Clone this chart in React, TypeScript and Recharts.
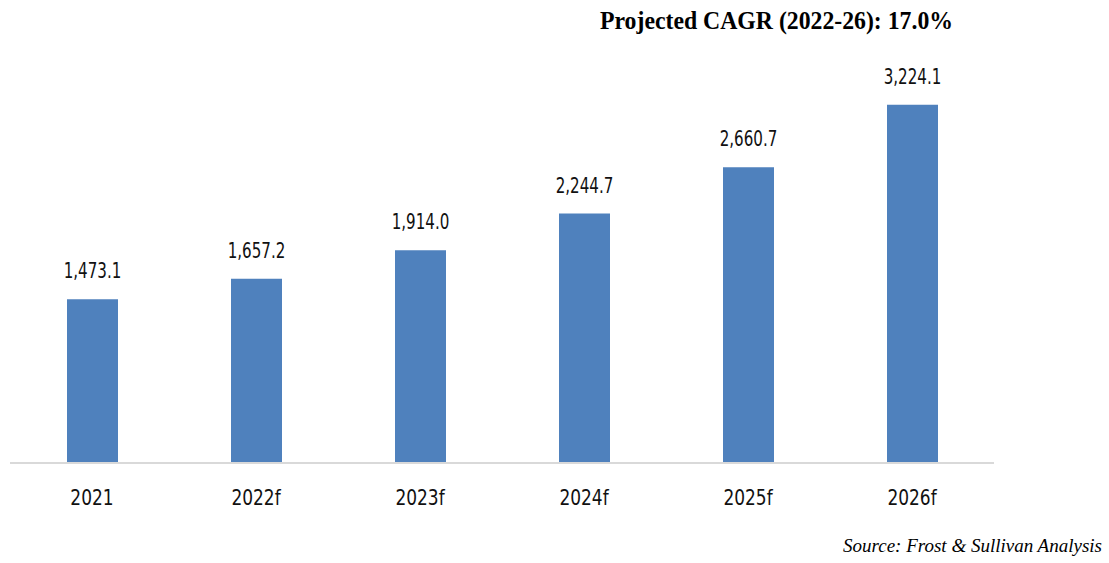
import React from 'react';
import { BarChart, Bar, XAxis, YAxis, LabelList } from 'recharts';

const categories = ['2021', '2022f', '2023f', '2024f', '2025f', '2026f'];
const values = [1473.1, 1657.2, 1914.0, 2244.7, 2660.7, 3224.1];
const titleText = 'Projected CAGR (2022-26): 17.0%';
const sourceText = 'Source: Frost & Sullivan Analysis';

const data = categories.map((c, i) => ({ name: c, value: values[i] }));

const fmt = (v: number) =>
  v.toLocaleString('en-US', { minimumFractionDigits: 1, maximumFractionDigits: 1 });

const narrow = '"Liberation Sans Narrow", "DejaVu Sans Condensed", Arial, sans-serif';
const serif = '"Liberation Serif", "Times New Roman", serif';

const CondensedTick = (props: any) => {
  const { x, y, payload } = props;
  return (
    <g transform={`translate(${x},${y})`}>
      <text
        transform="scale(0.86,1)"
        textAnchor="middle"
        dy="0.71em"
        fill="#111"
        fontSize={22}
        fontFamily={narrow}
      >
        {payload.value}
      </text>
    </g>
  );
};

const CondensedLabel = (props: any) => {
  const { x, y, width, value } = props;
  const cx = Number(x) + Number(width) / 2;
  return (
    <g transform={`translate(${cx},${Number(y) - 21})`}>
      <text transform="scale(0.8,1)" textAnchor="middle" fill="#111" fontSize={21} fontFamily={narrow}>
        {fmt(Number(value))}
      </text>
    </g>
  );
};

export default function App() {
  return (
    <div style={{ position: 'absolute', left: 0, top: 0, width: 1109, height: 563, background: '#fff' }}>
      <BarChart
        width={1109}
        height={563}
        data={data}
        margin={{ top: 74, right: 115, bottom: 60, left: 10 }}
      >
        <XAxis
          dataKey="name"
          axisLine={{ stroke: '#d9d9d9', strokeWidth: 2 }}
          tickLine={false}
          height={40}
          tickMargin={20}
          tick={<CondensedTick />}
        />
        <YAxis hide domain={[0, 3500]} />
        <Bar dataKey="value" fill="#4f81bd" barSize={51} isAnimationActive={false}>
          <LabelList dataKey="value" content={<CondensedLabel />} />
        </Bar>
      </BarChart>
      <svg
        width={1109}
        height={563}
        style={{ position: 'absolute', left: 0, top: 0, pointerEvents: 'none' }}
      >
        <text
          x={600}
          y={29}
          fontFamily={serif}
          fontWeight="bold"
          fontSize={25}
          fill="#000"
          textLength={353}
          lengthAdjust="spacingAndGlyphs"
        >
          {titleText}
        </text>
        <text
          x={1102}
          y={552}
          textAnchor="end"
          fontFamily={serif}
          fontStyle="italic"
          fontSize={19}
          fill="#000"
        >
          {sourceText}
        </text>
      </svg>
    </div>
  );
}
